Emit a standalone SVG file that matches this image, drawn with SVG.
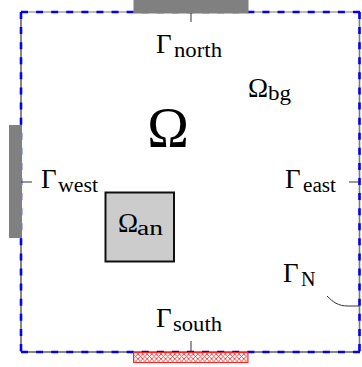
<svg xmlns="http://www.w3.org/2000/svg" width="362" height="367" viewBox="0 0 362 367">
  <defs>
    <pattern id="hatch" patternUnits="userSpaceOnUse" width="4.6" height="4.6">
      <rect width="4.6" height="4.6" fill="#ffffff"/>
      <path d="M0,0 L4.6,4.6 M4.6,0 L0,4.6" stroke="#ff2020" stroke-width="0.8"/>
    </pattern>
  </defs>
  <style>
    .dash { stroke: #0000ff; stroke-width: 2.6; stroke-dasharray: 7 8.09; fill: none; }
    .tick { stroke: #333333; stroke-width: 1; fill: none; }
    .main { font-family: "Liberation Serif", "DejaVu Serif", serif; font-size: 27px; fill: #000; }
    .sub { font-family: "Liberation Serif", "DejaVu Serif", serif; font-size: 20px; fill: #000; }
  </style>
  <rect width="362" height="367" fill="#ffffff"/>

  <g id="domain">
    <line x1="21" y1="12" x2="359.5" y2="12" stroke="#7a7a7a" stroke-width="1.2"/>
    <line x1="359.5" y1="12" x2="359.5" y2="352" stroke="#7a7a7a" stroke-width="1.6"/>
    <line x1="21" y1="12" x2="21" y2="352" stroke="#222222" stroke-width="1.1"/>
    <line x1="21" y1="352" x2="359.5" y2="352" stroke="#111111" stroke-width="1.1"/>
    <line class="dash" x1="21" y1="12" x2="360" y2="12"/>
    <line class="dash" x1="21" y1="12" x2="21" y2="351"/>
    <line class="dash" x1="359.5" y1="12" x2="359.5" y2="351"/>
    <line class="dash" x1="21" y1="352" x2="360" y2="352"/>
  </g>

  <g id="north-bar"><rect x="133.5" y="0" width="115" height="13.5" fill="#808080"/></g>
  <g id="west-bar"><rect x="9" y="125" width="13" height="113" fill="#808080"/></g>
  <g id="south-bar"><rect x="133.5" y="352.5" width="114.5" height="10" fill="url(#hatch)" stroke="#ff2020" stroke-width="1"/></g>

  <g id="connectors">
    <line class="tick" x1="191" y1="13" x2="191" y2="22"/>
    <line class="tick" x1="191" y1="341" x2="191" y2="352"/>
    <line class="tick" x1="21" y1="182" x2="32" y2="182"/>
    <line class="tick" x1="349" y1="182" x2="359" y2="182"/>
    <path class="tick" d="M327,296 C333,302 338,306 348,306 L359,306"/>
  </g>

  <g id="anomaly">
    <rect x="105.5" y="192.5" width="68.5" height="69" fill="#cccccc" stroke="#111111" stroke-width="2"/>
    <text class="main" x="118" y="232">Ω</text>
    <text class="sub" x="137" y="235" textLength="26" lengthAdjust="spacingAndGlyphs">an</text>
  </g>

  <g id="omega-label">
    <text x="168" y="147" text-anchor="middle" font-family="Liberation Serif, DejaVu Serif, serif" font-size="56">Ω</text>
  </g>
  <g id="omega-bg-label">
    <text class="main" x="248" y="97">Ω</text>
    <text class="sub" x="268" y="100" textLength="23" lengthAdjust="spacingAndGlyphs">bg</text>
  </g>
  <g id="gamma-north-label">
    <text class="main" x="156" y="53">Γ</text>
    <text class="sub" x="174" y="57" textLength="48" lengthAdjust="spacingAndGlyphs">north</text>
  </g>
  <g id="gamma-south-label">
    <text class="main" x="156" y="327">Γ</text>
    <text class="sub" x="173" y="331" textLength="49" lengthAdjust="spacingAndGlyphs">south</text>
  </g>
  <g id="gamma-west-label">
    <text class="main" x="41" y="188">Γ</text>
    <text class="sub" x="58" y="192" textLength="40" lengthAdjust="spacingAndGlyphs">west</text>
  </g>
  <g id="gamma-east-label">
    <text class="main" x="285" y="188">Γ</text>
    <text class="sub" x="303" y="192" textLength="33" lengthAdjust="spacingAndGlyphs">east</text>
  </g>
  <g id="gamma-n-label">
    <text class="main" x="283" y="282">Γ</text>
    <text class="sub" x="301" y="286">N</text>
  </g>
</svg>
